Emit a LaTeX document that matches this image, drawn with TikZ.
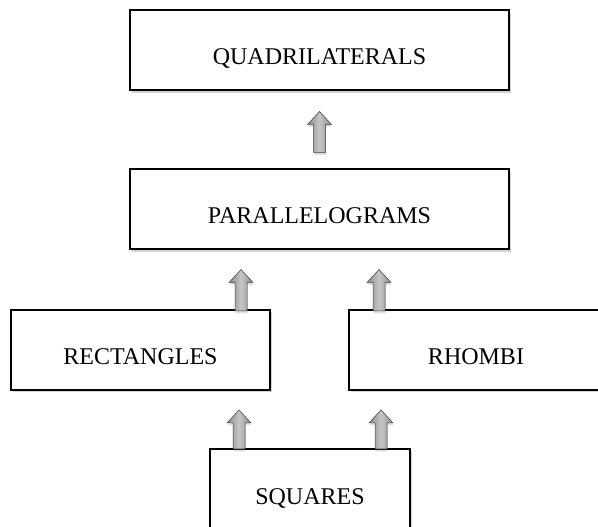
\documentclass[tikz,border=0pt]{standalone}
\usepackage{fontspec}
\setmainfont{Liberation Serif}
\usepackage{xcolor}
\usetikzlibrary{calc, positioning, shadows}

\begin{document}
\begin{tikzpicture}[
        x=1pt, y=1pt,
        % Style for the boxes (with shadow)
        box/.style={
            rectangle,
            draw=black,
            line width=2pt,
            fill=white,
            align=center,
            minimum height=80pt,
            inner sep=0pt,
            text height=29pt,
            text depth=0pt,
            font=\fontsize{24}{28}\selectfont,
            drop shadow={shadow xshift=1.5pt, shadow yshift=-2.5pt, opacity=0.35}
        },
        % Style for the fat grey arrows
        fatarrow/.style={
            draw=gray!45!black,
            line width=0.5pt,
            left color=gray!90,
            right color=gray!90,
            middle color=gray!45,
            drop shadow={shadow xshift=0.5pt, shadow yshift=-2.5pt, opacity=0.25},
            to path={let \p1=(\tikztostart), \p2=(\tikztotarget) in
                (\x1-6,\y1) -- (\x1-6,\y2-13) -- (\x1-12,\y2-13) -- (\x1,\y2)
                -- (\x1+12,\y2-13) -- (\x1+6,\y2-13) -- (\x1+6,\y1) -- cycle}
        }
    ]

        \path[use as bounding box, clip] (0,0) rectangle (598,527);

        % Nodes placed by coordinates
        \node[box, minimum width=379pt] (quad) at (319.5, 476.5) {QUADRILATERALS};

        \node[box, minimum width=379pt] (para) at (319.5, 317.5) {PARALLELOGRAMS};

        \node[box, minimum width=259pt] (rect) at (140.5, 177) {RECTANGLES};

        \node[box, minimum width=254pt] (rhomb) at (476, 177) {RHOMBI};

        \node[box, minimum width=200pt, minimum height=83pt] (sq) at (310, 36.5) {SQUARES};

        % --- ARROWS ---

        % 1. Parallelograms -> Quadrilaterals
        \path[fatarrow] ([yshift=16pt]para.north) to ([yshift=-20pt]quad.south);

        % 2. Rectangles and Rhombi -> Parallelograms
        \path[fatarrow] ([xshift=-30pt, yshift=-2pt]rect.north east) to ([xshift=-30pt, yshift=-19pt]rect.north east |- para.south);
        \path[fatarrow] ([xshift=31pt, yshift=-2pt]rhomb.north west) to ([xshift=31pt, yshift=-19pt]rhomb.north west |- para.south);

        % 3. Squares -> Rectangles and Rhombi
        \path[fatarrow] ([xshift=30pt, yshift=-1pt]sq.north west) to ([xshift=30pt, yshift=-19pt]sq.north west |- rect.south);
        \path[fatarrow] ([xshift=-30pt, yshift=-1pt]sq.north east) to ([xshift=-30pt, yshift=-19pt]sq.north east |- rhomb.south);

    \end{tikzpicture}
\end{document}
